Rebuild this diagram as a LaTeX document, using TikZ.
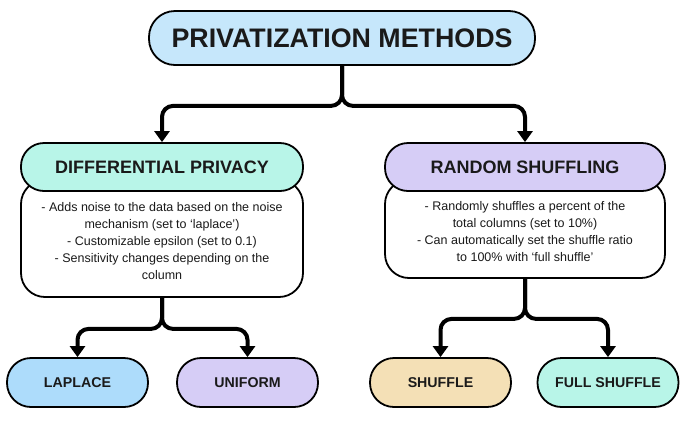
\documentclass[tikz,border=0pt]{standalone}
\usepackage{fontspec}
\setmainfont{Liberation Sans}
\usetikzlibrary{arrows.meta}
\definecolor{ctop}{HTML}{C6E7FB}
\definecolor{cmint}{HTML}{B8F5E8}
\definecolor{clav}{HTML}{D6CDF6}
\definecolor{cblue}{HTML}{ADDCFB}
\definecolor{csand}{HTML}{F4E0B6}
\definecolor{ctext}{HTML}{1A1A1A}
\tikzset{
  pill/.style={draw=black, line width=1.8pt, rounded corners=22pt, text=ctext, inner sep=0pt},
  titlebox/.style={pill, rounded corners=26pt, minimum width=386pt, minimum height=54pt, font=\bfseries\fontsize{26.8}{30}\selectfont},
  headbox/.style={pill, rounded corners=23pt, minimum height=48pt, font=\bfseries\fontsize{18}{20}\selectfont},
  bodybox/.style={pill, fill=white, rounded corners=24pt, align=center, font=\fontsize{12.5}{17}\selectfont},
  leafbox/.style={pill, rounded corners=24pt, minimum width=141pt, minimum height=49pt, font=\bfseries\fontsize{14.2}{16}\selectfont},
  conn/.style={line width=4pt, rounded corners=11pt, -{Triangle[width=15pt,length=11pt]}}
}
\begin{document}
\begin{tikzpicture}[x=1pt,y=-1pt]
\useasboundingbox (0,0) rectangle (684,421);
% top
\node[titlebox, fill=ctop] (top) at (342,38) {PRIVATIZATION METHODS};
% bodies
\node[bodybox, minimum width=282pt, minimum height=117pt] (dpbody) at (162,238.5)
  {\\[-2pt]- Adds noise to the data based on the noise\\mechanism (set to `laplace')\\- Customizable epsilon (set to 0.1)\\- Sensitivity changes depending on the\\column};
\node[bodybox, minimum width=280pt, minimum height=98pt] (rsbody) at (525,229)
  {\\[-2pt]- Randomly shuffles a percent of the\\total columns (set to 10\%)\\- Can automatically set the shuffle ratio\\to 100\% with `full shuffle'};
% headers
\node[headbox, fill=cmint, minimum width=282pt] (dp) at (162,167) {DIFFERENTIAL PRIVACY};
\node[headbox, fill=clav, minimum width=280pt] (rs) at (525,167) {RANDOM SHUFFLING};
% leaves
\node[leafbox, fill=cblue] (lap) at (77.5,382.5) {LAPLACE};
\node[leafbox, fill=clav] (uni) at (247.5,382.5) {UNIFORM};
\node[leafbox, fill=csand] (shu) at (440.5,382.5) {SHUFFLE};
\node[leafbox, fill=cmint] (full) at (608,382.5) {FULL SHUFFLE};
% connectors
\draw[conn] (top.south) -- ++(0,40) -| (dp.north);
\draw[conn] (top.south) -- ++(0,40) -| (rs.north);
\draw[conn] (dpbody.south) -- ++(0,31) -| (lap.north);
\draw[conn] (dpbody.south) -- ++(0,31) -| (uni.north);
\draw[conn] (rsbody.south) -- ++(0,40) -| (shu.north);
\draw[conn] (rsbody.south) -- ++(0,40) -| (full.north);
\end{tikzpicture}
\end{document}
